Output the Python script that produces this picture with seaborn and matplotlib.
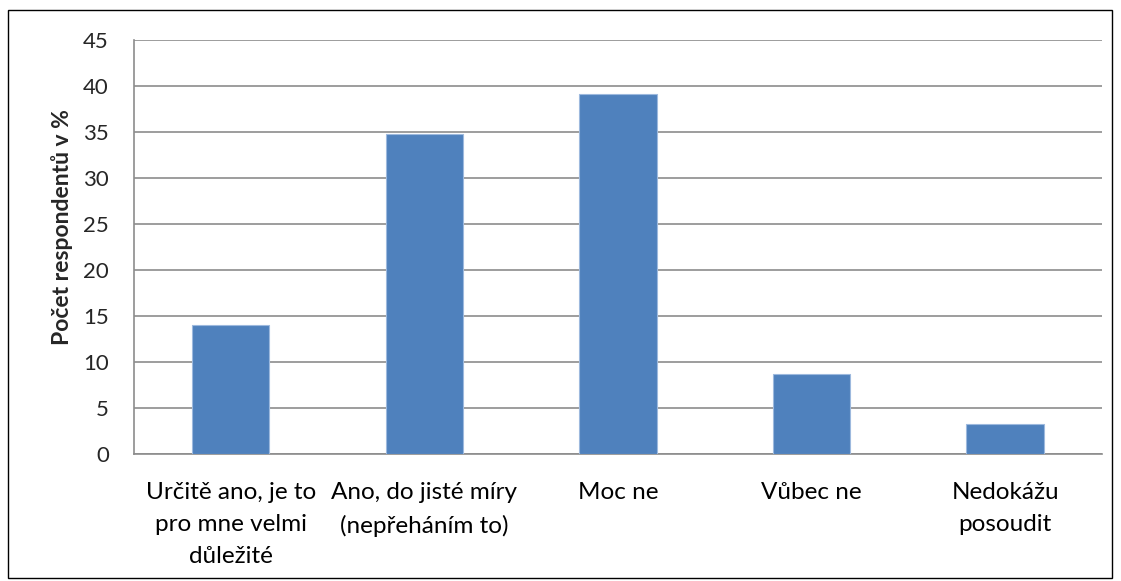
import matplotlib
matplotlib.use('Agg')
import matplotlib.pyplot as plt
import seaborn as sns
import pandas as pd
from matplotlib.patches import Rectangle

# data
categories = ['Určitě ano, je to\npro mne velmi\ndůležité', 'Ano, do jisté míry\n(nepřeháním to)',
              'Moc ne', 'Vůbec ne', 'Nedokážu\nposoudit']
values = [14.0, 34.8, 39.1, 8.7, 3.3]

df = pd.DataFrame({'kategorie': categories, 'procenta': values})

sns.set_style('white')
plt.rcParams['font.family'] = ['Lato', 'DejaVu Sans']

fig = plt.figure(figsize=(11.21, 5.81), dpi=100)
ax = fig.add_axes([0.1195, 0.218, 0.8635, 0.713])

sns.barplot(data=df, x='kategorie', y='procenta', color='#4F81BD', width=0.4,
            saturation=1, edgecolor='#9DB9DE', linewidth=0.8, ax=ax, zorder=3)

ax.set_ylim(0, 45)
ax.set_xlim(-0.5, 4.5)
ax.set_yticks(range(0, 46, 5))
ax.yaxis.grid(True, color='#8C8C8C', linewidth=1.2)
ax.set_axisbelow(True)
for s in ['top', 'right']:
    ax.spines[s].set_visible(False)
for s in ['left', 'bottom']:
    ax.spines[s].set_color('#8C8C8C')
    ax.spines[s].set_linewidth(1.2)

ax.set_xticks(range(5))
ax.set_xticklabels(categories, fontsize=17.5, color='black', linespacing=1.65)
ax.set_xticks([i - 0.5 for i in range(6)], minor=True)
ax.tick_params(axis='x', which='major', length=0, pad=20)
ax.tick_params(axis='x', which='minor', length=6, width=1.2, color='#8C8C8C', direction='out')
ax.tick_params(axis='y', length=6, width=1.2, color='#8C8C8C', direction='out', labelsize=16, pad=12)

ax.set_xlabel('')
ax.set_ylabel('Počet respondentů v %', fontsize=16.5, fontweight='bold')
ax.yaxis.set_label_coords(-0.063, 0.548)

fig.patches.append(Rectangle((0.007, 0.006), 0.985, 0.977, transform=fig.transFigure,
                             fill=False, edgecolor='black', linewidth=1))

fig.savefig('out.png', dpi=100)
